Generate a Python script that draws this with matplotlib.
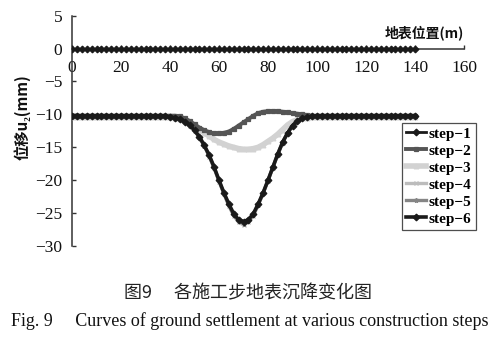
import numpy as np
import matplotlib
matplotlib.use("Agg")
import matplotlib.pyplot as plt

# surface position along the section, 2 m spacing (m)
x = np.arange(0, 141, 2)

# surface settlement u2 (mm) at each construction step
step1 = [
    0.0, 0.0, 0.0, 0.0, 0.0, 0.0, 0.0, 0.0, 0.0, 0.0,
    0.0, 0.0, 0.0, 0.0, 0.0, 0.0, 0.0, 0.0, 0.0, 0.0,
    0.0, 0.0, 0.0, 0.0, 0.0, 0.0, 0.0, 0.0, 0.0, 0.0,
    0.0, 0.0, 0.0, 0.0, 0.0, 0.0, 0.0, 0.0, 0.0, 0.0,
    0.0, 0.0, 0.0, 0.0, 0.0, 0.0, 0.0, 0.0, 0.0, 0.0,
    0.0, 0.0, 0.0, 0.0, 0.0, 0.0, 0.0, 0.0, 0.0, 0.0,
    0.0, 0.0, 0.0, 0.0, 0.0, 0.0, 0.0, 0.0, 0.0, 0.0,
    0.0,
]
step2 = [
    -10.2, -10.2, -10.2, -10.2, -10.2, -10.2, -10.2, -10.2, -10.2, -10.2,
    -10.2, -10.2, -10.2, -10.2, -10.2, -10.2, -10.2, -10.2, -10.2, -10.2,
    -10.2, -10.2, -10.3, -10.6, -11.0, -11.5, -12.0, -12.4, -12.7, -12.9,
    -12.9, -12.8, -12.6, -12.2, -11.7, -11.2, -10.7, -10.2, -9.8, -9.6,
    -9.5, -9.5, -9.5, -9.6, -9.7, -9.8, -9.9, -10.0, -10.1, -10.2,
    -10.2, -10.2, -10.2, -10.2, -10.2, -10.2, -10.2, -10.2, -10.2, -10.2,
    -10.2, -10.2, -10.2, -10.2, -10.2, -10.2, -10.2, -10.2, -10.2, -10.2,
    -10.2,
]
step3 = [
    -10.4, -10.4, -10.4, -10.4, -10.4, -10.4, -10.4, -10.4, -10.4, -10.4,
    -10.4, -10.4, -10.4, -10.4, -10.4, -10.4, -10.4, -10.4, -10.4, -10.4,
    -10.4, -10.5, -10.7, -11.0, -11.4, -11.8, -12.3, -12.8, -13.3, -13.8,
    -14.2, -14.5, -14.8, -15.0, -15.2, -15.3, -15.3, -15.2, -15.0, -14.6,
    -14.1, -13.6, -13.0, -12.3, -11.6, -11.1, -10.8, -10.6, -10.5, -10.4,
    -10.4, -10.4, -10.4, -10.4, -10.4, -10.4, -10.4, -10.4, -10.4, -10.4,
    -10.4, -10.4, -10.4, -10.4, -10.4, -10.4, -10.4, -10.4, -10.4, -10.4,
    -10.4,
]
step4 = [
    -10.2, -10.2, -10.2, -10.2, -10.2, -10.2, -10.2, -10.2, -10.2, -10.2,
    -10.2, -10.2, -10.2, -10.2, -10.2, -10.2, -10.2, -10.2, -10.2, -10.2,
    -10.4, -10.5, -10.7, -11.1, -11.7, -12.5, -13.5, -14.8, -16.4, -18.2,
    -20.2, -22.1, -23.9, -25.4, -26.4, -26.8, -26.4, -25.4, -23.8, -22.0,
    -20.1, -18.1, -16.1, -14.3, -12.9, -11.8, -11.0, -10.6, -10.4, -10.3,
    -10.2, -10.2, -10.2, -10.2, -10.2, -10.2, -10.2, -10.2, -10.2, -10.2,
    -10.2, -10.2, -10.2, -10.2, -10.2, -10.2, -10.2, -10.2, -10.2, -10.2,
    -10.2,
]
step5 = [
    -10.2, -10.2, -10.2, -10.2, -10.2, -10.2, -10.2, -10.2, -10.2, -10.2,
    -10.2, -10.2, -10.2, -10.2, -10.2, -10.2, -10.2, -10.2, -10.2, -10.2,
    -10.4, -10.5, -10.7, -11.1, -11.6, -12.4, -13.5, -14.8, -16.3, -18.1,
    -20.1, -22.0, -23.8, -25.3, -26.2, -26.6, -26.2, -25.3, -23.7, -22.0,
    -20.0, -18.0, -16.0, -14.2, -12.8, -11.7, -11.0, -10.6, -10.4, -10.3,
    -10.2, -10.2, -10.2, -10.2, -10.2, -10.2, -10.2, -10.2, -10.2, -10.2,
    -10.2, -10.2, -10.2, -10.2, -10.2, -10.2, -10.2, -10.2, -10.2, -10.2,
    -10.2,
]
step6 = [
    -10.2, -10.2, -10.2, -10.2, -10.2, -10.2, -10.2, -10.2, -10.2, -10.2,
    -10.2, -10.2, -10.2, -10.2, -10.2, -10.2, -10.2, -10.2, -10.2, -10.2,
    -10.4, -10.5, -10.7, -11.1, -11.6, -12.4, -13.4, -14.7, -16.2, -18.0,
    -20.0, -21.9, -23.6, -25.1, -26.0, -26.3, -26.0, -25.1, -23.6, -21.9,
    -20.0, -18.0, -16.0, -14.2, -12.8, -11.7, -11.0, -10.6, -10.4, -10.3,
    -10.2, -10.2, -10.2, -10.2, -10.2, -10.2, -10.2, -10.2, -10.2, -10.2,
    -10.2, -10.2, -10.2, -10.2, -10.2, -10.2, -10.2, -10.2, -10.2, -10.2,
    -10.2,
]

labels = ["step\u22121", "step\u22122", "step\u22123",
          "step\u22124", "step\u22125", "step\u22126"]
series = [step1, step2, step3, step4, step5, step6]

# colour, line width, marker, marker size, zorder
styles = [
    ("#1a1a1a", 2.0, "D", 3.4, 3),
    ("#555555", 2.8, "s", 3.4, 4),
    ("#d2d2d2", 4.0, "^", 3.4, 3),
    ("#bcbcbc", 2.4, "x", 3.4, 3),
    ("#858585", 2.4, "*", 3.6, 3),
    ("#1a1a1a", 2.6, "D", 3.4, 5),
]

SERIF = ["Liberation Serif", "Noto Sans CJK SC", "DejaVu Serif"]
CJK = ["Noto Sans CJK SC", "Liberation Serif", "DejaVu Sans"]

fig = plt.figure(figsize=(4.99, 3.42), dpi=100)
ax = fig.add_axes([0.1443, 0.2807, 0.7856, 0.6734])

for y, lab, (c, lw, m, ms, z) in zip(series, labels, styles):
    ax.plot(x, y, color=c, lw=lw, marker=m, ms=ms, mec=c, mfc=c,
            mew=0.9, label=lab, zorder=z)

ax.set_xlim(0, 160)
ax.set_ylim(-30, 5)
ax.set_xticks(range(0, 161, 20))
ax.set_yticks(range(-30, 6, 5))
ax.set_yticklabels([f"\u2212{abs(v)}" if v < 0 else str(v) for v in range(-30, 6, 5)])

ax.spines["top"].set_visible(False)
ax.spines["right"].set_visible(False)
ax.spines["bottom"].set_position(("data", 0))
for s in ("left", "bottom"):
    ax.spines[s].set_color("#333333")
    ax.spines[s].set_linewidth(1.1)

ax.tick_params(axis="both", direction="in", length=3, width=1.0,
               color="#333333", labelsize=12.5)
ax.tick_params(axis="x", pad=8)
ax.tick_params(axis="y", pad=7)
for t in ax.get_xticklabels() + ax.get_yticklabels():
    t.set_fontfamily(SERIF)
    t.set_color("#111111")
for t in ax.get_xticklabels():
    t.set_bbox(dict(facecolor="white", edgecolor="none", pad=0.3))

# axis titles
ax.text(1.0, 0.925, "地表位置(m)", transform=ax.transAxes, ha="right",
        va="center", fontsize=10, fontweight="bold", family=CJK,
        color="#111111")
fig.text(0.044, 0.658, "位移u\u2082(mm)", rotation=90, ha="center",
         va="center", fontsize=11, fontweight="bold", family=CJK,
         color="#111111")

leg = ax.legend(loc="upper left", bbox_to_anchor=(0.842, 0.534),
                borderaxespad=0, frameon=True, fancybox=False,
                handlelength=1.3, handletextpad=0.2, labelspacing=0.22,
                borderpad=0.25, prop={"family": SERIF, "weight": "bold",
                                      "size": 11})
leg.get_frame().set_edgecolor("#222222")
leg.get_frame().set_linewidth(0.9)

# figure captions
fig.text(0.497, 0.143, "图9\u3000 各施工步地表沉降变化图", ha="center",
         va="center", fontsize=13, family=CJK, color="#222222")
fig.text(0.5, 0.062,
         "Fig. 9\u2003 Curves of ground settlement at various construction steps",
         ha="center", va="center", fontsize=13, family=SERIF,
         color="#111111")

fig.savefig("out.png", dpi=100)
